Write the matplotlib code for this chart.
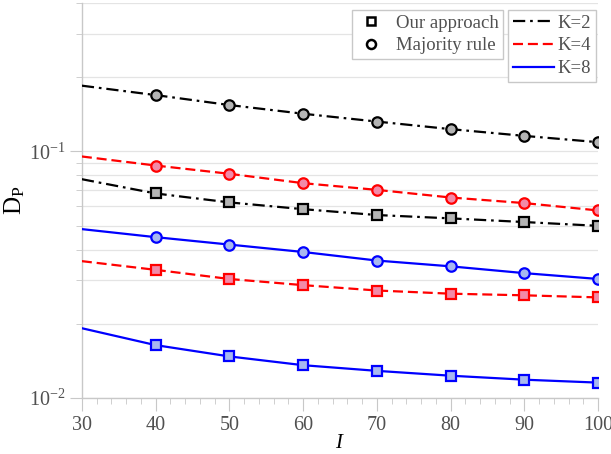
import numpy as np
import matplotlib
matplotlib.use('Agg')
import matplotlib.pyplot as plt
from matplotlib.lines import Line2D
from matplotlib.ticker import LogLocator, MultipleLocator, NullFormatter

plt.rcParams['font.family'] = ['Liberation Serif', 'DejaVu Serif']
plt.rcParams['mathtext.fontset'] = 'custom'
plt.rcParams['mathtext.rm'] = 'Liberation Serif'
plt.rcParams['mathtext.it'] = 'Liberation Serif:italic'

# number of items I
I_vals = [30, 40, 50, 60, 70, 80, 90, 100]

# majority rule
maj_k2 = [0.1845, 0.169, 0.154, 0.142, 0.132, 0.123, 0.1155, 0.1089]
maj_k4 = [0.0953, 0.0876, 0.0811, 0.0743, 0.0698, 0.0650, 0.0617, 0.0576]
maj_k8 = [0.0484, 0.0449, 0.0419, 0.0391, 0.0361, 0.0342, 0.0321, 0.0304]

# our approach
our_k2 = [0.0771, 0.0675, 0.0621, 0.0583, 0.0552, 0.0535, 0.0517, 0.0499]
our_k4 = [0.0359, 0.0331, 0.0304, 0.0287, 0.0273, 0.0265, 0.0261, 0.0256]
our_k8 = [0.0192, 0.0164, 0.01476, 0.0136, 0.0129, 0.01233, 0.01188, 0.01156]

k_labels = ['K=2', 'K=4', 'K=8']
k_colors = ['black', '#ff0000', '#0000ff']
k_fills = ['#b4b4b4', '#f28aa8', '#a8b8f0']
k_styles = [(0, (5.5, 2.2, 1.2, 2.2)), (0, (4.5, 2.2)), '-']

grey = '#c8c8c8'
text_grey = '#505050'

fig = plt.figure(figsize=(6.11, 4.54), dpi=100)
ax = fig.add_axes([0.134, 0.123, 0.845, 0.871])

for i, (maj, our) in enumerate(zip([maj_k2, maj_k4, maj_k8], [our_k2, our_k4, our_k8])):
    for vals, mk, ms in [(maj, 'o', 7.5), (our, 's', 6.5)]:
        ax.plot(I_vals, vals, linestyle=k_styles[i], color=k_colors[i], lw=1.6,
                marker=mk, markersize=ms, markeredgewidth=1.6,
                markerfacecolor=k_fills[i], markeredgecolor=k_colors[i],
                markevery=slice(1, None), zorder=3)

ax.set_yscale('log')
ax.set_xlim(30, 100)
ax.set_ylim(0.01, 0.4)

ax.xaxis.set_major_locator(MultipleLocator(10))
ax.xaxis.set_minor_locator(MultipleLocator(2))
ax.yaxis.set_major_locator(LogLocator(base=10))
ax.yaxis.set_minor_locator(LogLocator(base=10, subs=np.arange(2, 10)))
ax.yaxis.set_minor_formatter(NullFormatter())

ax.grid(True, which='both', axis='y', color='#e4e4e4', lw=0.9, zorder=0)
for s in ['top', 'right']:
    ax.spines[s].set_visible(False)
for s in ['left', 'bottom']:
    ax.spines[s].set_color(grey)
    ax.spines[s].set_linewidth(1.0)

ax.tick_params(which='major', length=9, color=grey, labelsize=14.5, labelcolor=text_grey)
ax.tick_params(which='minor', length=4.5, color=grey)
ax.tick_params(axis='x', pad=4)
ax.tick_params(axis='y', pad=3)

ax.set_xlabel(r'$I$', fontsize=15, labelpad=-1)
ax.set_ylabel(r'$\mathrm{D}_\mathrm{P}$', fontsize=18, labelpad=1)

# marker legend
marker_handles = [
    Line2D([], [], linestyle='none', marker='s', markersize=5.5, markeredgewidth=1.8,
           markerfacecolor='white', markeredgecolor='black'),
    Line2D([], [], linestyle='none', marker='o', markersize=6.5, markeredgewidth=1.8,
           markerfacecolor='white', markeredgecolor='black'),
]
leg1 = ax.legend(marker_handles, ['Our approach', 'Majority rule'],
                 loc='upper right', bbox_to_anchor=(0.816, 0.982), fontsize=13.5,
                 frameon=True, fancybox=False, edgecolor=grey, framealpha=1,
                 handlelength=1.6, handletextpad=0.5, borderpad=0.25,
                 labelspacing=0.3, borderaxespad=0)
for t in leg1.get_texts():
    t.set_color(text_grey)
ax.add_artist(leg1)

# line style legend
line_handles = [Line2D([], [], linestyle=k_styles[i], color=k_colors[i], lw=1.6)
                for i in range(3)]
leg2 = ax.legend(line_handles, k_labels,
                 loc='upper right', bbox_to_anchor=(0.996, 0.982), fontsize=13.5,
                 frameon=True, fancybox=False, edgecolor=grey, framealpha=1,
                 handlelength=2.2, handletextpad=0.2, borderpad=0.25,
                 labelspacing=0.3, borderaxespad=0)
for t in leg2.get_texts():
    t.set_color(text_grey)

fig.savefig('out.png', dpi=100)
